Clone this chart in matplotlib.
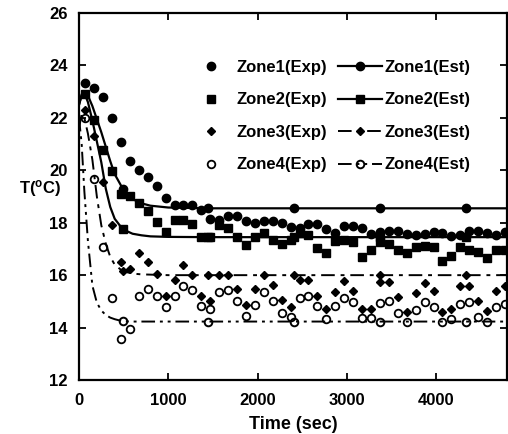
import numpy as np
import matplotlib
matplotlib.use('Agg')
import matplotlib.pyplot as plt

plt.rcParams['font.family'] = ['Liberation Sans', 'DejaVu Sans']
plt.rcParams['font.weight'] = 'bold'
plt.rcParams['mathtext.default'] = 'regular'

# measured points (sampled every 100 s)
time_exp = [70, 170, 270, 370, 470, 570, 670, 770, 870, 970,
            1070, 1170, 1270, 1370, 1470, 1570, 1670, 1770, 1870, 1970,
            2070, 2170, 2270, 2370, 2470, 2570, 2670, 2770, 2870, 2970,
            3070, 3170, 3270, 3370, 3470, 3570, 3670, 3770, 3870, 3970,
            4070, 4170, 4270, 4370, 4470, 4570, 4670, 4770]

zone1_exp = [23.32, 23.13, 22.78, 21.98, 21.09, 20.34, 20.03, 19.73, 19.40, 18.93,
             18.67, 18.67, 18.67, 18.50, 18.13, 18.10, 18.27, 18.27, 18.05, 18.00,
             18.07, 18.05, 18.00, 17.84, 17.80, 17.97, 17.97, 17.77, 17.62, 17.87,
             17.87, 17.80, 17.56, 17.65, 17.69, 17.69, 17.56, 17.52, 17.56, 17.65,
             17.59, 17.50, 17.52, 17.69, 17.69, 17.59, 17.52, 17.65]

zone2_exp = [22.90, 21.90, 20.77, 19.97, 19.10, 19.02, 18.77, 18.45, 18.03, 17.63,
             18.10, 18.10, 17.96, 17.46, 17.46, 17.92, 17.78, 17.46, 17.16, 17.46,
             17.59, 17.36, 17.17, 17.36, 17.59, 17.53, 17.02, 16.86, 17.32, 17.36,
             17.27, 16.71, 16.96, 17.28, 17.18, 16.97, 16.86, 17.07, 17.13, 17.07,
             16.54, 16.72, 17.09, 16.97, 16.90, 16.66, 16.96, 16.96]

zone3_exp = [22.30, 21.30, 19.56, 17.91, 16.51, 16.22, 16.83, 16.51, 16.03, 15.22,
             15.81, 16.38, 16.00, 15.22, 15.02, 16.00, 16.00, 15.48, 14.88, 15.47,
             16.00, 15.61, 15.05, 14.80, 15.80, 15.80, 15.19, 14.69, 15.35, 15.79,
             15.41, 14.70, 14.70, 15.73, 15.73, 15.15, 14.60, 15.31, 15.70, 15.41,
             14.61, 14.70, 15.58, 15.58, 15.00, 14.62, 15.41, 15.60]

zone4_exp = [22.00, 19.65, 17.08, 15.13, 13.58, 13.96, 15.21, 15.49, 15.21, 14.80,
             15.21, 15.60, 15.43, 14.83, 14.72, 15.34, 15.43, 15.02, 14.45, 14.88,
             15.35, 15.02, 14.54, 14.41, 15.11, 15.22, 14.82, 14.33, 14.82, 15.13,
             14.99, 14.35, 14.35, 14.92, 15.02, 14.55, 14.22, 14.66, 14.98, 14.79,
             14.22, 14.31, 14.89, 14.98, 14.39, 14.22, 14.79, 14.89]

# estimated curves
time_est = [0, 30, 60, 100, 150, 200, 250, 300, 350, 400,
            490, 600, 700, 800, 1000, 1450, 2410, 3370, 4330, 4800]
zone1_est = [22.5, 22.9, 23.0, 22.85, 22.45, 21.95, 21.45, 20.9, 20.35, 19.85,
             19.3, 18.9, 18.74, 18.65, 18.58, 18.55, 18.55, 18.55, 18.55, 18.55]
zone2_est = [22.5, 22.85, 22.95, 22.6, 21.9, 21.1, 20.3, 19.3, 18.6, 18.15,
             17.75, 17.58, 17.52, 17.48, 17.46, 17.45, 17.45, 17.45, 17.45, 17.45]
zone3_est = [21.6, 22.15, 22.0, 21.4, 20.4, 19.0, 17.9, 17.2, 16.7, 16.4,
             16.15, 16.06, 16.03, 16.02, 16.0, 16.0, 16.0, 16.0, 16.0, 16.0]
zone4_est = [22.0, 21.0, 19.2, 17.3, 15.6, 14.95, 14.65, 14.48, 14.38, 14.32,
             14.24, 14.23, 14.23, 14.23, 14.23, 14.23, 14.23, 14.23, 14.23, 14.23]
est_marks = [10, 15, 16, 17, 18]

fig = plt.figure(figsize=(5.08, 4.34), dpi=100)
ax = fig.add_axes([0.1555, 0.1244, 0.842, 0.8456])

k = 'black'
e1, = ax.plot(time_exp, zone1_exp, 'o', color=k, ms=6)
e2, = ax.plot(time_exp, zone2_exp, 's', color=k, ms=6)
e3, = ax.plot(time_exp, zone3_exp, 'D', color=k, ms=4)
e4, = ax.plot(time_exp, zone4_exp, 'o', color=k, ms=5.5, mfc='none', mew=1.3)

s1, = ax.plot(time_est, zone1_est, '-', color=k, lw=1.6, marker='o', ms=6, markevery=est_marks)
s2, = ax.plot(time_est, zone2_est, '-', color=k, lw=1.6, marker='s', ms=6, markevery=est_marks)
s3, = ax.plot(time_est, zone3_est, color=k, lw=1.4, dashes=(7, 3, 2, 3), marker='D', ms=4,
              markevery=est_marks)
s4, = ax.plot(time_est, zone4_est, color=k, lw=1.4, dashes=(7, 2.5, 1.5, 2.5, 1.5, 2.5), marker='o',
              ms=5.5, mfc='none', mew=1.4, markevery=est_marks)

ax.set_xlim(0, 4790)
ax.set_ylim(12, 26)
ax.set_xticks([0, 1000, 2000, 3000, 4000])
ax.set_yticks([12, 14, 16, 18, 20, 22, 24, 26])
ax.tick_params(direction='in', length=5, width=1.3, top=True, right=True, labelsize=12)
ax.tick_params(axis='x', pad=9)
ax.tick_params(axis='y', pad=8)
for sp in ax.spines.values():
    sp.set_linewidth(1.6)

ax.set_xlabel('Time (sec)', fontsize=13, fontweight='bold', labelpad=6)
ax.set_ylabel('T($^\\mathregular{o}$C)', fontsize=12, fontweight='bold', rotation=0,
              va='center', ha='center')
ax.yaxis.set_label_coords(-0.092, 0.522)

ax.legend([e1, e2, e3, e4, s1, s2, s3, s4],
          ['Zone1(Exp)', 'Zone2(Exp)', 'Zone3(Exp)', 'Zone4(Exp)',
           'Zone1(Est)', 'Zone2(Est)', 'Zone3(Est)', 'Zone4(Est)'],
          ncol=2, frameon=False, loc='upper left', bbox_to_anchor=(0.258, 0.872),
          borderaxespad=0, borderpad=0, handlelength=2.6, handletextpad=0.2,
          columnspacing=0.7, labelspacing=1.05, numpoints=1,
          prop={'size': 12, 'weight': 'bold'})

plt.savefig('out.png', dpi=100)
